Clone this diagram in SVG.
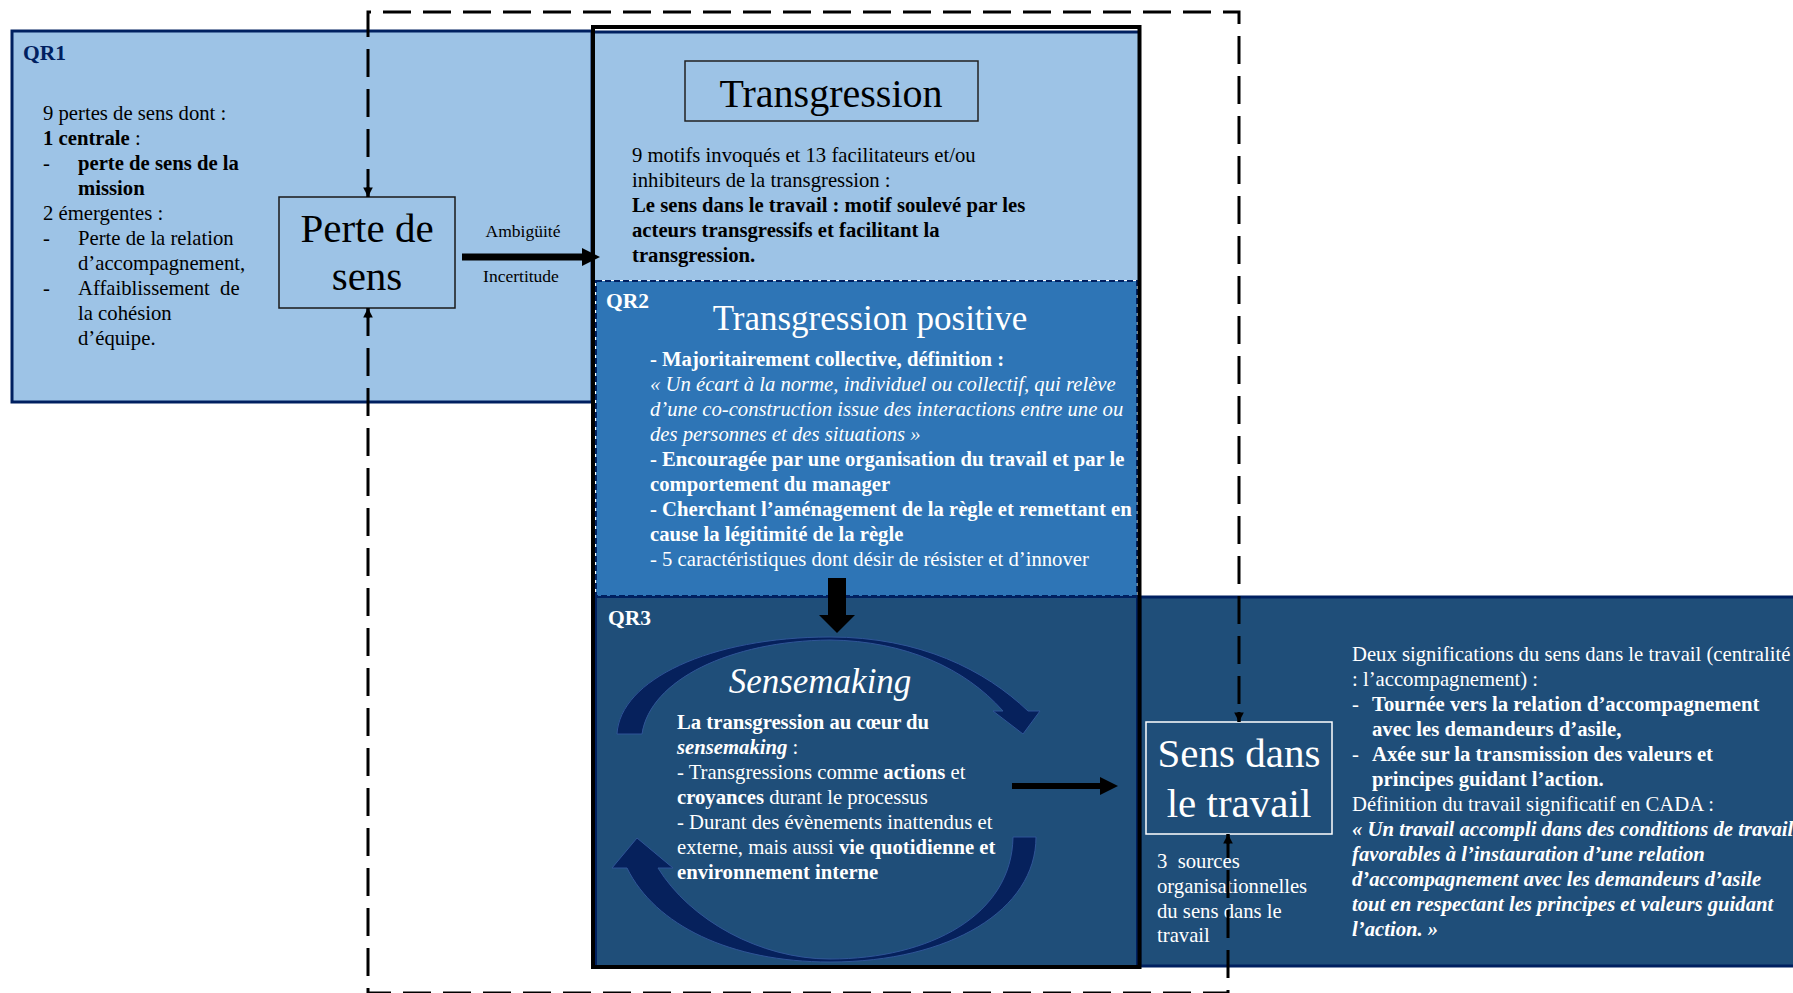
<svg xmlns="http://www.w3.org/2000/svg" width="1793" height="993" viewBox="0 0 1793 993">
<style>
text{font-family:"Liberation Serif","Times New Roman",serif;}
.t20{font-size:20.7px;}
.blk{fill:#000;}
.wht{fill:#fff;}
.b{font-weight:bold;}
.i{font-style:italic;}
.lbl{font-size:21.5px;font-weight:bold;}
.dash{fill:none;stroke:#000;stroke-width:3;stroke-dasharray:28 12;}
.arc{fill:#06215C;stroke:#2F5597;stroke-width:1;}
</style>
<defs>
<marker id="ah" viewBox="0 0 10 10" refX="10" refY="5" markerWidth="3.2" markerHeight="3.2" orient="auto" markerUnits="strokeWidth">
<path d="M0,0 L10,5 L0,10 Z" fill="#000"/>
</marker>
<linearGradient id="arcg" x1="0" y1="0" x2="1" y2="1">
<stop offset="0" stop-color="#0B2C6E"/>
<stop offset="1" stop-color="#021A4F"/>
</linearGradient>
</defs>
<rect width="1793" height="993" fill="#fff"/>

<g id="qr1">
<rect x="12" y="31" width="580" height="371" fill="#9DC3E6" stroke="#002060" stroke-width="3"/>
<text x="23" y="60" class="lbl" fill="#002060">QR1</text>
<g class="t20 blk">
<text x="43" y="120">9 pertes de sens dont :</text>
<text x="43" y="145"><tspan class="b">1 centrale</tspan> :</text>
<text x="43" y="170">-</text><text x="78" y="170" class="b">perte de sens de la</text>
<text x="78" y="195" class="b">mission</text>
<text x="43" y="220">2 émergentes  :</text>
<text x="43" y="245">-</text><text x="78" y="245">Perte de la relation</text>
<text x="78" y="270">d’accompagnement,</text>
<text x="43" y="295">-</text><text x="78" y="295" xml:space="preserve">Affaiblissement  de</text>
<text x="78" y="320">la cohésion</text>
<text x="78" y="345">d’équipe.</text>
</g>
</g>

<g id="perte">
<rect x="279" y="197" width="176" height="111" fill="none" stroke="#1a1a1a" stroke-width="1.5"/>
<text x="367" y="242" font-size="41" text-anchor="middle" class="blk">Perte de</text>
<text x="367" y="290" font-size="41" text-anchor="middle" class="blk">sens</text>
</g>

<g id="transgression">
<rect x="594" y="31" width="544" height="249" fill="#9DC3E6"/>
<line x1="594" y1="32" x2="1138" y2="32" stroke="#002060" stroke-width="3"/>
<rect x="685" y="61" width="293" height="60" fill="none" stroke="#222" stroke-width="1.5"/>
<text x="831" y="107" font-size="40" text-anchor="middle" class="blk">Transgression</text>
<g class="t20 blk">
<text x="632" y="162">9 motifs invoqués et 13 facilitateurs et/ou</text>
<text x="632" y="187">inhibiteurs de la transgression  :</text>
<text x="632" y="212" class="b">Le sens dans le travail : motif soulevé par les</text>
<text x="632" y="237" class="b">acteurs transgressifs et facilitant la</text>
<text x="632" y="262" class="b">transgression.</text>
</g>
</g>

<g id="qr2">
<rect x="596" y="281" width="541" height="315" fill="#2E75B6" stroke="#002060" stroke-width="2" stroke-dasharray="6 3"/>
<text x="606" y="308" class="lbl wht">QR2</text>
<text x="870" y="330" font-size="35" text-anchor="middle" class="wht">Transgression positive</text>
<g class="t20 wht">
<text x="650" y="366" class="b">- Majoritairement collective, définition :</text>
<text x="650" y="391" class="i">« Un écart à la norme, individuel ou collectif, qui relève</text>
<text x="650" y="416" class="i">d’une co-construction issue des interactions entre une ou</text>
<text x="650" y="441" class="i">des personnes et des situations »</text>
<text x="650" y="466" class="b">- Encouragée par une organisation du travail et par le</text>
<text x="650" y="491" class="b">comportement du manager</text>
<text x="650" y="516" class="b">- Cherchant l’aménagement de la règle et remettant en</text>
<text x="650" y="541" class="b">cause la légitimité de la règle</text>
<text x="650" y="566">- 5 caractéristiques dont désir de résister et d’innover</text>
</g>
</g>

<g id="qr3">
<rect x="596" y="597" width="541" height="369" fill="#1F4E79" stroke="#002060" stroke-width="2"/>
<text x="608" y="625" class="lbl wht">QR3</text>
<path class="arc" fill="url(#arcg)" d="M617,734 C620,680 710,637 830,637 C920,637 985,670 1028,711 L1040,711 L1023,734 L993,711 L1003,711 C965,668 905,641 830,640 C730,641 650,680 642,734 Z"/>
<path class="arc" fill="url(#arcg)" d="M1036,837 C1036,910 950,962 830,962 C730,962 655,925 627,868 L612,868 L637,838 L673,868 L658,868 C690,920 760,959 830,959 C930,959 1012,915 1013,837 Z"/>
<text x="820" y="693" font-size="35" text-anchor="middle" class="wht i">Sensemaking</text>
<g class="t20 wht">
<text x="677" y="729" class="b">La transgression au cœur du</text>
<text x="677" y="754"><tspan class="b i">sensemaking</tspan> :</text>
<text x="677" y="779">- Transgressions comme <tspan class="b">actions</tspan> et</text>
<text x="677" y="804"><tspan class="b">croyances</tspan> durant le processus</text>
<text x="677" y="829">- Durant des évènements inattendus et</text>
<text x="677" y="854">externe, mais aussi <tspan class="b">vie quotidienne et</tspan></text>
<text x="677" y="879" class="b">environnement interne</text>
</g>
</g>

<g id="sens-panel">
<rect x="1140" y="597" width="700" height="369" fill="#1F4E79" stroke="#002060" stroke-width="3"/>
<g class="t20 wht">
<text x="1352" y="661">Deux significations du sens dans le travail (centralité</text>
<text x="1352" y="686">: l’accompagnement) :</text>
<text x="1352" y="711">-</text><text x="1372" y="711" class="b">Tournée vers la relation d’accompagnement</text>
<text x="1372" y="736" class="b">avec les demandeurs d’asile,</text>
<text x="1352" y="761">-</text><text x="1372" y="761" class="b">Axée sur la transmission des valeurs et</text>
<text x="1372" y="786" class="b">principes guidant l’action.</text>
<text x="1352" y="811">Définition du travail significatif en CADA :</text>
<text x="1352" y="836" class="b i">« Un travail accompli dans des conditions de travail</text>
<text x="1352" y="861" class="b i">favorables à l’instauration d’une relation</text>
<text x="1352" y="886" class="b i">d’accompagnement avec les demandeurs d’asile</text>
<text x="1352" y="911" class="b i">tout en respectant les principes et valeurs guidant</text>
<text x="1352" y="936" class="b i">l’action. »</text>
</g>
</g>

<g id="sens">
<rect x="1146" y="722" width="186" height="112" fill="none" stroke="#fff" stroke-width="1.5"/>
<text x="1239" y="767" font-size="41" text-anchor="middle" class="wht">Sens dans</text>
<text x="1239" y="817" font-size="41" text-anchor="middle" class="wht">le travail</text>
<g class="t20 wht">
<text x="1157" y="868" xml:space="preserve">3  sources</text>
<text x="1157" y="893">organisationnelles</text>
<text x="1157" y="918">du sens dans le</text>
<text x="1157" y="942">travail</text>
</g>
</g>

<rect id="frame" x="593" y="27" width="546.5" height="940" fill="none" stroke="#000" stroke-width="4"/>

<g id="connectors">
<path class="dash" d="M368,197 L368,12 L1239,12 L1239,722"/>
<path class="dash" d="M368,308 L368,993 L1228,993 L1228,834"/>
<path d="M368,187 L368,197" stroke="#000" stroke-width="3" marker-end="url(#ah)"/>
<path d="M1239,712 L1239,722" stroke="#000" stroke-width="3" marker-end="url(#ah)"/>
<path d="M368,318 L368,308" stroke="#000" stroke-width="3" marker-end="url(#ah)"/>
<path d="M1228,844 L1228,834" stroke="#000" stroke-width="3" marker-end="url(#ah)"/>
<line x1="462" y1="257" x2="584" y2="257" stroke="#000" stroke-width="7"/>
<polygon points="582,248 600,257 582,266" fill="#000"/>
<text x="523" y="237" font-size="17.5" text-anchor="middle" class="blk">Ambigüité</text>
<text x="521" y="282" font-size="17.5" text-anchor="middle" class="blk">Incertitude</text>
<rect x="828" y="578" width="18" height="38" fill="#000"/>
<polygon points="819,615 855,615 837,633" fill="#000"/>
<line x1="1012" y1="786" x2="1102" y2="786" stroke="#000" stroke-width="6"/>
<polygon points="1100,777 1118,786 1100,795" fill="#000"/>
</g>
</svg>
